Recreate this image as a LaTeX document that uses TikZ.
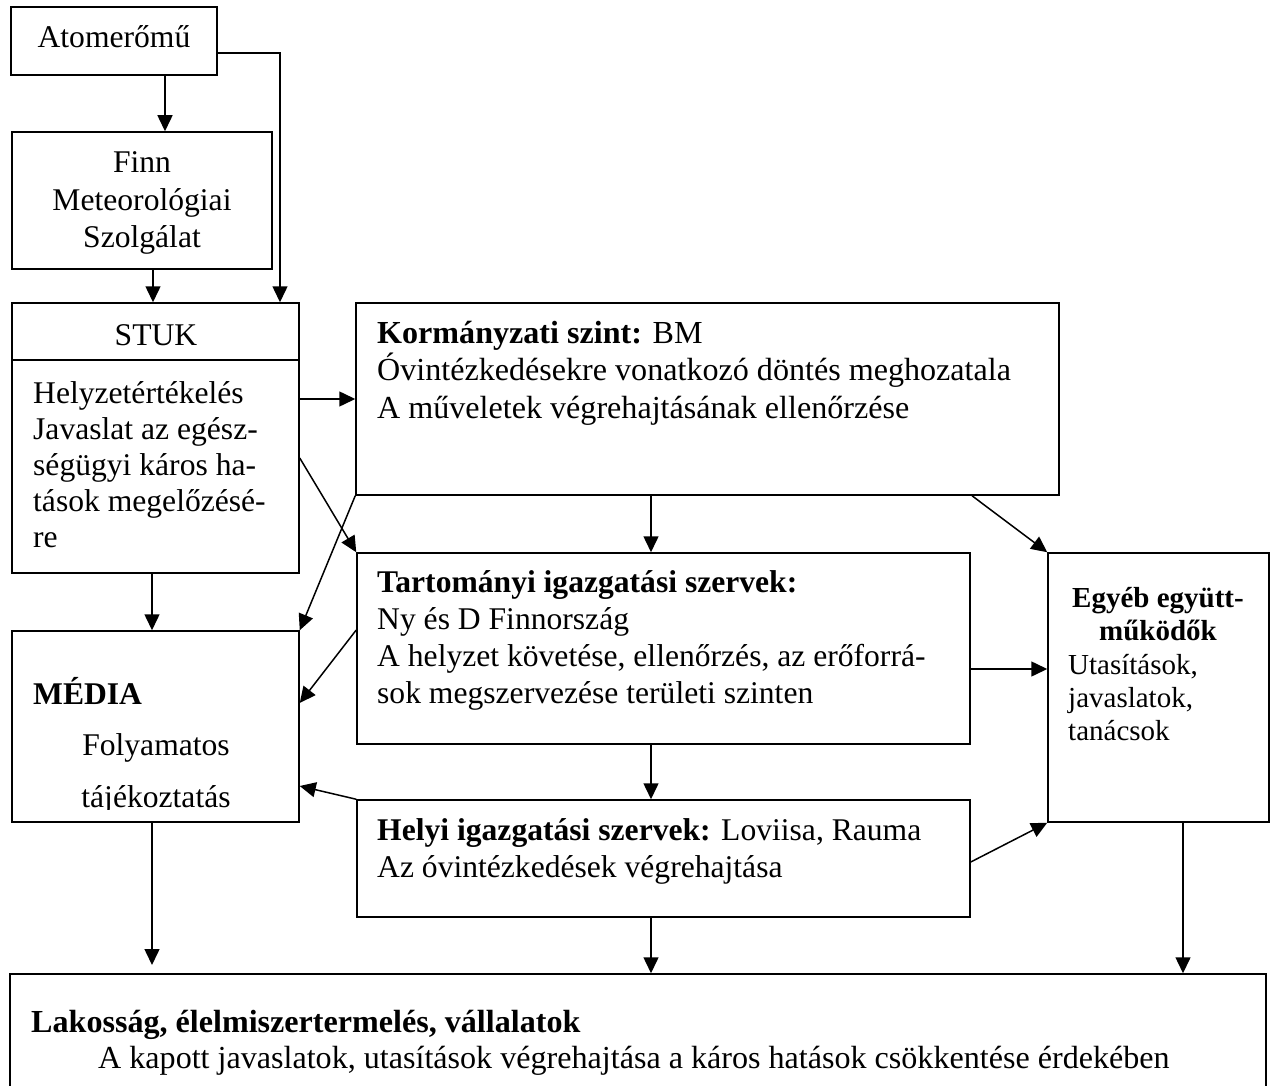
\documentclass[tikz,border=0pt]{standalone}
\usepackage{fontspec}
\setmainfont{Liberation Serif}
\usetikzlibrary{arrows.meta,fit}
\begin{document}
\begin{tikzpicture}[x=1pt,y=-1pt,
  box/.style={draw, line width=1.5pt, inner sep=0pt},
  arr/.style={line width=1.5pt, -{Triangle[length=16pt,width=15pt]}},
  txt/.style={inner sep=0pt, font=\fontsize{31.6}{37}\selectfont},
  big/.style={inner sep=0pt, font=\fontsize{32.1}{37.5}\selectfont},
  small/.style={inner sep=0pt, font=\fontsize{29}{33}\selectfont},
]
\useasboundingbox (0,0) rectangle (1276,1086);

% boxes
\node[box, fit={(11,7) (217,75)}] (atom) {};
\node[box, fit={(12,132) (272,269)}] (finn) {};
\node[box, fit={(12,303) (299,573)}] (stuk) {};
\node[box, fit={(356,303) (1059,495)}] (korm) {};
\node[box, fit={(357,553) (970,744)}] (tart) {};
\node[box, fit={(357,800) (970,917)}] (helyi) {};
\node[box, fit={(12,631) (299,822)}] (media) {};
\node[box, fit={(1048,553) (1269,822)}] (egyeb) {};
\node[box, fit={(10,974) (1266,1100)}] (lak) {};
\draw[line width=1.5pt] (stuk.west |- 0,360) -- (stuk.east |- 0,360);

% texts (multi-line nodes are placed by the baseline of their last line)
\node[txt, anchor=base] (atomt) at (114,48) {Atomerőmű};
\node[txt, anchor=base, align=center] (finnt) at (142,247) {Finn\\Meteorológiai\\Szolgálat};
\node[txt, anchor=base] (stukh) at (156,345) {STUK};
\node[txt, anchor=base west, align=left, font=\fontsize{31.6}{36}\selectfont] (stukt) at (33,547)
  {Helyzetértékelés\\Javaslat az egész-\\ségügyi káros ha-\\tások megelőzésé-\\re};
\node[big, anchor=base west, align=left] (kormt) at (377,418)
  {\textbf{Kormányzati szint:} BM\\Óvintézkedésekre vonatkozó döntés meghozatala\\A műveletek végrehajtásának ellenőrzése};
\node[txt, anchor=base west, align=left] (tartt) at (377,703)
  {\textbf{Tartományi igazgatási szervek:}\\Ny és D Finnország\\A helyzet követése, ellenőrzés, az erőforrá-\\sok megszervezése területi szinten};
\node[txt, anchor=base west, align=left] (helyit) at (377,877)
  {\textbf{Helyi igazgatási szervek:} Loviisa, Rauma\\Az óvintézkedések végrehajtása};
\node[txt, anchor=base west] (mediah) at (33,704) {\textbf{MÉDIA}};
\node[txt, anchor=base] (media1) at (156,755) {Folyamatos};
\begin{scope}
  \clip (12,631) rectangle (299,809);
  \node[txt, anchor=base] (media2) at (156,807) {tájékoztatás};
\end{scope}
\node[small, anchor=base, align=center] (egyebh) at (1158,640) {\textbf{Egyéb együtt-}\\\textbf{működők}};
\node[small, anchor=base west, align=left] (egyebt) at (1068,740) {Utasítások,\\javaslatok,\\tanácsok};
\node[big, anchor=base west] (lakh) at (31,1032) {\textbf{Lakosság, élelmiszertermelés, vállalatok}};
\node[big, anchor=base west] (lakt) at (98,1068) {A kapott javaslatok, utasítások végrehajtása a káros hatások csökkentése érdekében};

% connectors
\draw[arr] (atom.south -| 165,0) -- (finn.north -| 165,0);
\draw[arr] (atom.east |- 0,53) -| (stuk.north -| 280,0);
\draw[arr] (finn.south -| 153,0) -- (stuk.north -| 153,0);
\draw[arr] (stuk.east |- 0,399) -- (korm.west |- 0,399);
\draw[arr] (stuk.east |- 0,458) -- (tart.north west);
\draw[arr] (korm.south west) -- (media.north east);
\draw[arr] (korm.south -| 651,0) -- (tart.north -| 651,0);
\draw[arr] (korm.south -| 972,0) -- (egyeb.north west);
\draw[arr] (tart.west |- 0,630) -- (media.east |- 0,703);
\draw[arr] (tart.east |- 0,669) -- (egyeb.west |- 0,669);
\draw[arr] (tart.south -| 651,0) -- (helyi.north -| 651,0);
\draw[arr] (helyi.north west) -- (media.east |- 0,786);
\draw[arr] (helyi.east |- 0,862) -- (egyeb.south west);
\draw[arr] (stuk.south -| 152,0) -- (media.north -| 152,0);
\draw[arr] (media.south -| 152,0) -- (152,965);
\draw[arr] (helyi.south -| 651,0) -- (lak.north -| 651,0);
\draw[arr] (egyeb.south -| 1183,0) -- (lak.north -| 1183,0);
\end{tikzpicture}
\end{document}
